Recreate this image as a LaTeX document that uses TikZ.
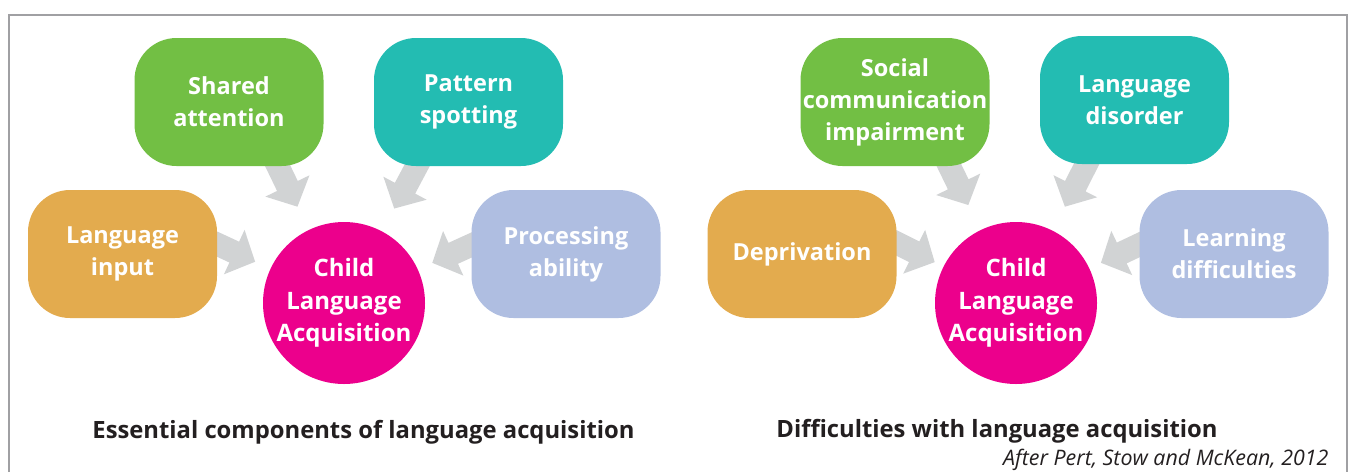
\documentclass[tikz,border=0pt]{standalone}
\usepackage{fontspec}
\setmainfont{Open Sans}
\usetikzlibrary{calc,backgrounds}
\definecolor{cgreen}{RGB}{114,191,68}
\definecolor{cteal}{RGB}{35,188,178}
\definecolor{corange}{RGB}{227,171,78}
\definecolor{clav}{RGB}{175,190,225}
\definecolor{cmag}{RGB}{236,0,140}
\definecolor{carrow}{RGB}{209,211,212}
\definecolor{cframe}{RGB}{160,160,163}
\definecolor{ctext}{RGB}{35,31,32}
% block arrow from #1 (start) to #2 (tip)
\newcommand{\blockarr}[2]{%
  \coordinate (ba-b) at ($(#2)!23pt!(#1)$);
  \fill[carrow] ($(#1)!11.5pt!90:(#2)$) -- ($(ba-b)!11.5pt!90:(#2)$) -- ($(ba-b)!24.5pt!90:(#2)$)
    -- (#2) -- ($(ba-b)!24.5pt!-90:(#2)$) -- ($(ba-b)!11.5pt!-90:(#2)$) -- ($(#1)!11.5pt!-90:(#2)$) -- cycle;
}
\begin{document}
\begin{tikzpicture}[x=1pt,y=-1pt,
  box/.style={rounded corners=42pt, minimum width=189pt, minimum height=128pt, inner sep=0pt,
    text=white, font=\bfseries\fontsize{23.5}{32}\selectfont, align=center},
  hub/.style={circle, fill=cmag, minimum size=162pt, inner sep=0pt, text=white,
    font=\bfseries\fontsize{24}{32.5}\selectfont, align=center},
  caption/.style={anchor=base, text=ctext, font=\bfseries\fontsize{23.8}{28}\selectfont},
  cite/.style={anchor=base east, text=ctext, font=\itshape\fontsize{21.4}{25}\selectfont}]
\useasboundingbox (0,0) rectangle (1351,472);
\draw[cframe, line width=2.5pt] (9,472) -- (9,15) -- (1347,15) -- (1347,472);

% left diagram
\node[box, fill=cgreen] (sa) at (229,102) {Shared\\attention};
\node[box, fill=cteal] (ps) at (468.5,102) {Pattern\\spotting};
\node[box, fill=corange] (li) at (122.5,254) {Language\\input};
\node[box, fill=clav] (pa) at (566,254) {Processing\\ability};
\node[hub] (c1) at (344,303) {Child\\Language\\Acquisition};

% right diagram
\node[box, fill=cgreen] (sc) at (895,102) {Social\\communication\\impairment};
\node[box, fill=cteal] (ld) at (1134.5,100) {Language\\disorder};
\node[box, fill=corange] (dp) at (802,254) {Deprivation};
\node[box, fill=clav] (lr) at (1234,254) {Learning\\difficulties};
\node[hub] (c2) at (1016,303) {Child\\Language\\Acquisition};

\begin{pgfonlayer}{background}
\coordinate (a1) at ($(sa.south)+(45,-8)$);
\coordinate (t1) at ($(c1)!107pt!(a1)$);
\blockarr{a1}{t1}
\coordinate (a2) at ($(ps.south)+(-47,-9)$);
\coordinate (t2) at ($(c1)!107pt!(a2)$);
\blockarr{a2}{t2}
\coordinate (a3) at ($(li.east)+(-9,-14)$);
\coordinate (t3) at ($(c1)!98pt!(a3)$);
\blockarr{a3}{t3}
\coordinate (a4) at ($(pa.west)+(9,-13)$);
\coordinate (t4) at ($(c1)!97pt!(a4)$);
\blockarr{a4}{t4}
\coordinate (b1) at ($(sc.south)+(51,-7)$);
\coordinate (u1) at ($(c2)!109pt!(b1)$);
\blockarr{b1}{u1}
\coordinate (b2) at ($(ld.south)+(-44,-8)$);
\coordinate (u2) at ($(c2)!108pt!(b2)$);
\blockarr{b2}{u2}
\coordinate (b3) at ($(dp.east)+(-6,-14)$);
\coordinate (u3) at ($(c2)!91pt!(b3)$);
\blockarr{b3}{u3}
\coordinate (b4) at ($(lr.west)+(12,-15)$);
\coordinate (u4) at ($(c2)!94pt!(b4)$);
\blockarr{b4}{u4}
\end{pgfonlayer}

\node[caption] (cap1) at (363.5,438) {Essential components of language acquisition};
\node[caption] (cap2) at (997,437) {Difficulties with language acquisition};
\node[cite] (src) at (1332,465) {After Pert, Stow and McKean, 2012};
\end{tikzpicture}
\end{document}
